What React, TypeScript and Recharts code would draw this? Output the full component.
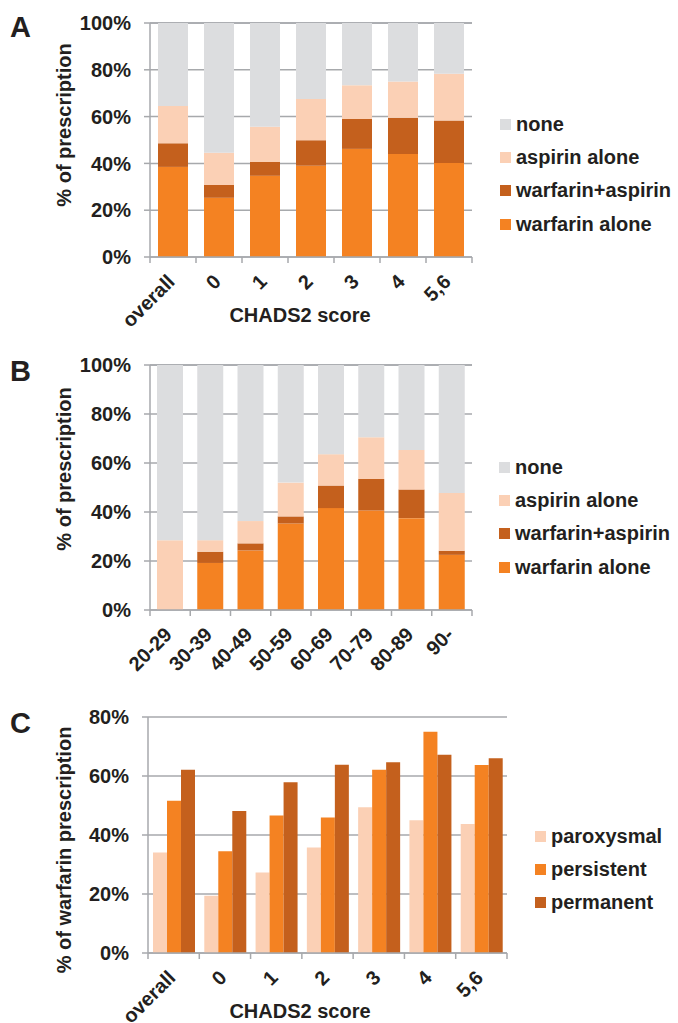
import React from "react";
import { Bar, BarChart, CartesianGrid, XAxis, YAxis } from "recharts";

const chadsCategories = ["overall", "0", "1", "2", "3", "4", "5,6"];
const ageCategories = ["20-29", "30-39", "40-49", "50-59", "60-69", "70-79", "80-89", "90-"];

// panel A: by CHADS2 score (%)
const aWarfarinAlone = [38.5, 25.3, 34.7, 39.0, 46.2, 44.0, 40.2];
const aWarfarinAspirin = [10.1, 5.5, 5.9, 10.9, 12.8, 15.5, 18.1];
const aAspirinAlone = [15.9, 13.8, 15.1, 17.6, 14.4, 15.5, 20.0];
const aNone = [35.5, 55.4, 44.3, 32.5, 26.6, 25.0, 21.7];

// panel B: by age group (%)
const bWarfarinAlone = [0, 19.2, 24.3, 35.3, 41.6, 40.6, 37.5, 22.5];
const bWarfarinAspirin = [0, 4.6, 2.9, 2.9, 9.2, 12.9, 11.7, 1.7];
const bAspirinAlone = [28.5, 4.7, 9.1, 13.8, 12.8, 17.0, 16.1, 23.6];
const bNone = [71.5, 71.5, 63.7, 48.0, 36.4, 29.5, 34.7, 52.2];

// panel C: warfarin prescription by AF type (%)
const paroxysmal = [34.1, 19.4, 27.3, 35.8, 49.4, 45.0, 43.7];
const persistent = [51.6, 34.5, 46.6, 45.9, 62.1, 75.0, 63.7];
const permanent = [62.1, 48.1, 57.9, 63.8, 64.7, 67.2, 66.0];

const pctTicks = [0, 20, 40, 60, 80, 100];
const pctTicksC = [0, 20, 40, 60, 80];

const FONT = '"Liberation Sans", Arial, sans-serif';
const INK = "#231f20";
const GRID = "#a7a9ac";
const C_NONE = "#dcdddf";
const C_ASP = "#fbd0b5";
const C_WA = "#c4601d";
const C_W = "#f48222";

const stackSeries = [
  { key: "none", label: "none", color: C_NONE },
  { key: "aspirin", label: "aspirin alone", color: C_ASP },
  { key: "warfAsp", label: "warfarin+aspirin", color: C_WA },
  { key: "warfarin", label: "warfarin alone", color: C_W },
];
const typeSeries = [
  { key: "paroxysmal", label: "paroxysmal", color: C_ASP },
  { key: "persistent", label: "persistent", color: C_W },
  { key: "permanent", label: "permanent", color: C_WA },
];

const dataA = chadsCategories.map((name, i) => ({
  name,
  warfarin: aWarfarinAlone[i],
  warfAsp: aWarfarinAspirin[i],
  aspirin: aAspirinAlone[i],
  none: aNone[i],
}));
const dataB = ageCategories.map((name, i) => ({
  name,
  warfarin: bWarfarinAlone[i],
  warfAsp: bWarfarinAspirin[i],
  aspirin: bAspirinAlone[i],
  none: bNone[i],
}));
const dataC = chadsCategories.map((name, i) => ({
  name,
  paroxysmal: paroxysmal[i],
  persistent: persistent[i],
  permanent: permanent[i],
}));

const tickFont = { fontFamily: FONT, fontSize: 20, fontWeight: 700, fill: INK };

function CategoryTick(props: any) {
  const { x, y, payload, step, last } = props;
  const tx = x + 3;
  const ty = y + 26;
  return (
    <g>
      <line x1={x - step / 2} x2={x - step / 2} y1={y} y2={y + 6} stroke={GRID} strokeWidth={1.5} />
      {payload.value === last && (
        <line x1={x + step / 2} x2={x + step / 2} y1={y} y2={y + 6} stroke={GRID} strokeWidth={1.5} />
      )}
      <text x={tx} y={ty} transform={`rotate(-45 ${tx} ${ty})`} textAnchor="end" {...tickFont}>
        {payload.value}
      </text>
    </g>
  );
}

function PctTick(props: any) {
  const { x, y, payload } = props;
  return (
    <text x={x} y={y} dy="0.36em" textAnchor="end" {...tickFont}>
      {`${payload.value}%`}
    </text>
  );
}

function Title({ x, y, angle, text }: { x: number; y: number; angle?: number; text: string }) {
  return (
    <text
      x={x}
      y={y}
      transform={angle ? `rotate(${angle} ${x} ${y})` : undefined}
      textAnchor="middle"
      {...tickFont}
    >
      {text}
    </text>
  );
}

function Legend({ items, left, top }: { items: { label: string; color: string }[]; left: number; top: number }) {
  return (
    <div style={{ position: "absolute", left, top }}>
      {items.map((s) => (
        <div key={s.label} style={{ display: "flex", alignItems: "center", height: 33.3 }}>
          <span style={{ width: 11, height: 11, background: s.color, marginRight: 5 }} />
          <span style={{ fontFamily: FONT, fontSize: 20, fontWeight: 700, color: INK, whiteSpace: "nowrap" }}>
            {s.label}
          </span>
        </div>
      ))}
    </div>
  );
}

function PanelLetter({ text, top }: { text: string; top: number }) {
  return (
    <div
      style={{
        position: "absolute",
        left: 10,
        top,
        fontFamily: FONT,
        fontSize: 29,
        fontWeight: 700,
        lineHeight: "29px",
        color: INK,
      }}
    >
      {text}
    </div>
  );
}

const W = 678;

export default function App() {
  const stepA = (W - 150 - 206) / chadsCategories.length;
  const stepB = (W - 150 - 206) / ageCategories.length;
  const stepC = (W - 148 - 171) / chadsCategories.length;

  const yAxisCommon = {
    tickSize: 6,
    tickMargin: 13,
    tick: <PctTick />,
    tickLine: { stroke: GRID, strokeWidth: 1.5 },
    axisLine: { stroke: GRID, strokeWidth: 1.5 },
  };

  return (
    <div style={{ position: "absolute", left: 0, top: 0, width: W, height: 1023, background: "#fff" }}>
      <PanelLetter text="A" top={13} />
      <PanelLetter text="B" top={357} />
      <PanelLetter text="C" top={709} />

      {/* A */}
      <div style={{ position: "absolute", left: 0, top: 0 }}>
        <BarChart width={W} height={340} data={dataA} margin={{ top: 23, right: 206, left: 0, bottom: 0 }}>
          <CartesianGrid vertical={false} stroke={GRID} strokeWidth={1.5} />
          <XAxis
            dataKey="name"
            height={83}
            tickSize={0}
            tickMargin={0}
            tickLine={false}
            interval={0}
            axisLine={{ stroke: GRID, strokeWidth: 1.5 }}
            tick={<CategoryTick step={stepA} last={chadsCategories[chadsCategories.length - 1]} />}
            label={{ content: () => <Title x={300} y={322} text="CHADS2 score" /> }}
          />
          <YAxis
            width={150}
            domain={[0, 100]}
            ticks={pctTicks}
            {...yAxisCommon}
            label={{ content: () => <Title x={71} y={125} angle={-90} text="% of prescription" /> }}
          />
          <Bar dataKey="warfarin" stackId="s" fill={C_W} barSize={30} isAnimationActive={false} />
          <Bar dataKey="warfAsp" stackId="s" fill={C_WA} barSize={30} isAnimationActive={false} />
          <Bar dataKey="aspirin" stackId="s" fill={C_ASP} barSize={30} isAnimationActive={false} />
          <Bar dataKey="none" stackId="s" fill={C_NONE} barSize={30} isAnimationActive={false} />
        </BarChart>
      </div>
      <Legend items={stackSeries} left={500} top={107.5} />

      {/* B */}
      <div style={{ position: "absolute", left: 0, top: 340 }}>
        <BarChart width={W} height={340} data={dataB} margin={{ top: 25, right: 206, left: 0, bottom: 0 }}>
          <CartesianGrid vertical={false} stroke={GRID} strokeWidth={1.5} />
          <XAxis
            dataKey="name"
            height={70}
            tickSize={0}
            tickMargin={0}
            tickLine={false}
            interval={0}
            axisLine={{ stroke: GRID, strokeWidth: 1.5 }}
            tick={<CategoryTick step={stepB} last={ageCategories[ageCategories.length - 1]} />}
          />
          <YAxis
            width={150}
            domain={[0, 100]}
            ticks={pctTicks}
            {...yAxisCommon}
            label={{ content: () => <Title x={71} y={129} angle={-90} text="% of prescription" /> }}
          />
          <Bar dataKey="warfarin" stackId="s" fill={C_W} barSize={26} isAnimationActive={false} />
          <Bar dataKey="warfAsp" stackId="s" fill={C_WA} barSize={26} isAnimationActive={false} />
          <Bar dataKey="aspirin" stackId="s" fill={C_ASP} barSize={26} isAnimationActive={false} />
          <Bar dataKey="none" stackId="s" fill={C_NONE} barSize={26} isAnimationActive={false} />
        </BarChart>
      </div>
      <Legend items={stackSeries} left={499} top={450.5} />

      {/* C */}
      <div style={{ position: "absolute", left: 0, top: 680 }}>
        <BarChart
          width={W}
          height={343}
          data={dataC}
          barGap={0}
          margin={{ top: 37, right: 171, left: 0, bottom: 0 }}
        >
          <CartesianGrid vertical={false} stroke={GRID} strokeWidth={1.5} />
          <XAxis
            dataKey="name"
            height={70}
            tickSize={0}
            tickMargin={0}
            tickLine={false}
            interval={0}
            axisLine={{ stroke: GRID, strokeWidth: 1.5 }}
            tick={<CategoryTick step={stepC} last={chadsCategories[chadsCategories.length - 1]} />}
            label={{ content: () => <Title x={300} y={338} text="CHADS2 score" /> }}
          />
          <YAxis
            width={148}
            domain={[0, 80]}
            ticks={pctTicksC}
            {...yAxisCommon}
            label={{ content: () => <Title x={71} y={170} angle={-90} text="% of warfarin prescription" /> }}
          />
          {typeSeries.map((s) => (
            <Bar key={s.key} dataKey={s.key} fill={s.color} barSize={14} isAnimationActive={false} />
          ))}
        </BarChart>
      </div>
      <Legend items={typeSeries} left={535} top={819.5} />
    </div>
  );
}
